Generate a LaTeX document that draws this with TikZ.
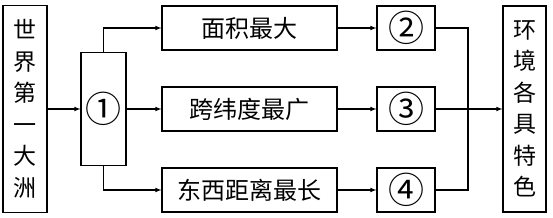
\documentclass[tikz,border=0pt]{standalone}
\usepackage{fontspec}
\newfontfamily\cjk{Noto Sans CJK SC}
\begin{document}
\begin{tikzpicture}[
    x=1pt, y=1pt,
    box/.style={draw, line width=1.1pt, inner sep=0pt, align=center, font=\cjk\fontsize{23}{31.5}\selectfont},
    wide/.style={box, minimum width=175pt, minimum height=44pt, font=\cjk\fontsize{24}{30}\selectfont},
    num/.style={box, font=\cjk\fontsize{36}{36}\selectfont},
    arrow/.style={->, >=latex, line width=1.1pt},
    line/.style={line width=1.1pt}
]
    \useasboundingbox (0,0) rectangle (553,217);
    % 世界第一大洲
    \node[box, minimum width=44pt, minimum height=207pt] (world) at (25,108) {世\\界\\第\\一\\大\\洲};
    \node[num, minimum width=45pt, minimum height=113pt] (n1) at (103.5,108) {①};
    % 三个特点
    \node[wide] (area) at (249.5,189) {面积最大};
    \node[wide] (lat) at (249.5,108) {跨纬度最广};
    \node[wide] (ew) at (249.5,27) {东西距离最长};
    % ②③④
    \node[num, minimum width=58pt, minimum height=44pt] (c2) at (406,189) {②};
    \node[num, minimum width=58pt, minimum height=44pt] (c3) at (406,108) {③};
    \node[num, minimum width=58pt, minimum height=44pt] (c4) at (406,27) {④};
    % 环境各具特色
    \node[box, minimum width=43pt, minimum height=206pt] (env) at (524.5,108) {环\\境\\各\\具\\特\\色};
    % 连线
    \draw[arrow] (world.east) -- (n1.west);
    \draw[arrow] (n1.north) |- (area.west);
    \draw[arrow] (n1.east) -- (lat.west);
    \draw[arrow] (n1.south) |- (ew.west);
    \draw[arrow] (area.east) -- (c2.west);
    \draw[arrow] (lat.east) -- (c3.west);
    \draw[arrow] (ew.east) -- (c4.west);
    \coordinate (join) at (468,108);
    \draw[line] (c2.east) -| (join) |- (c4.east);
    \draw[arrow] (c3.east) -- (env.west);
\end{tikzpicture}
\end{document}
